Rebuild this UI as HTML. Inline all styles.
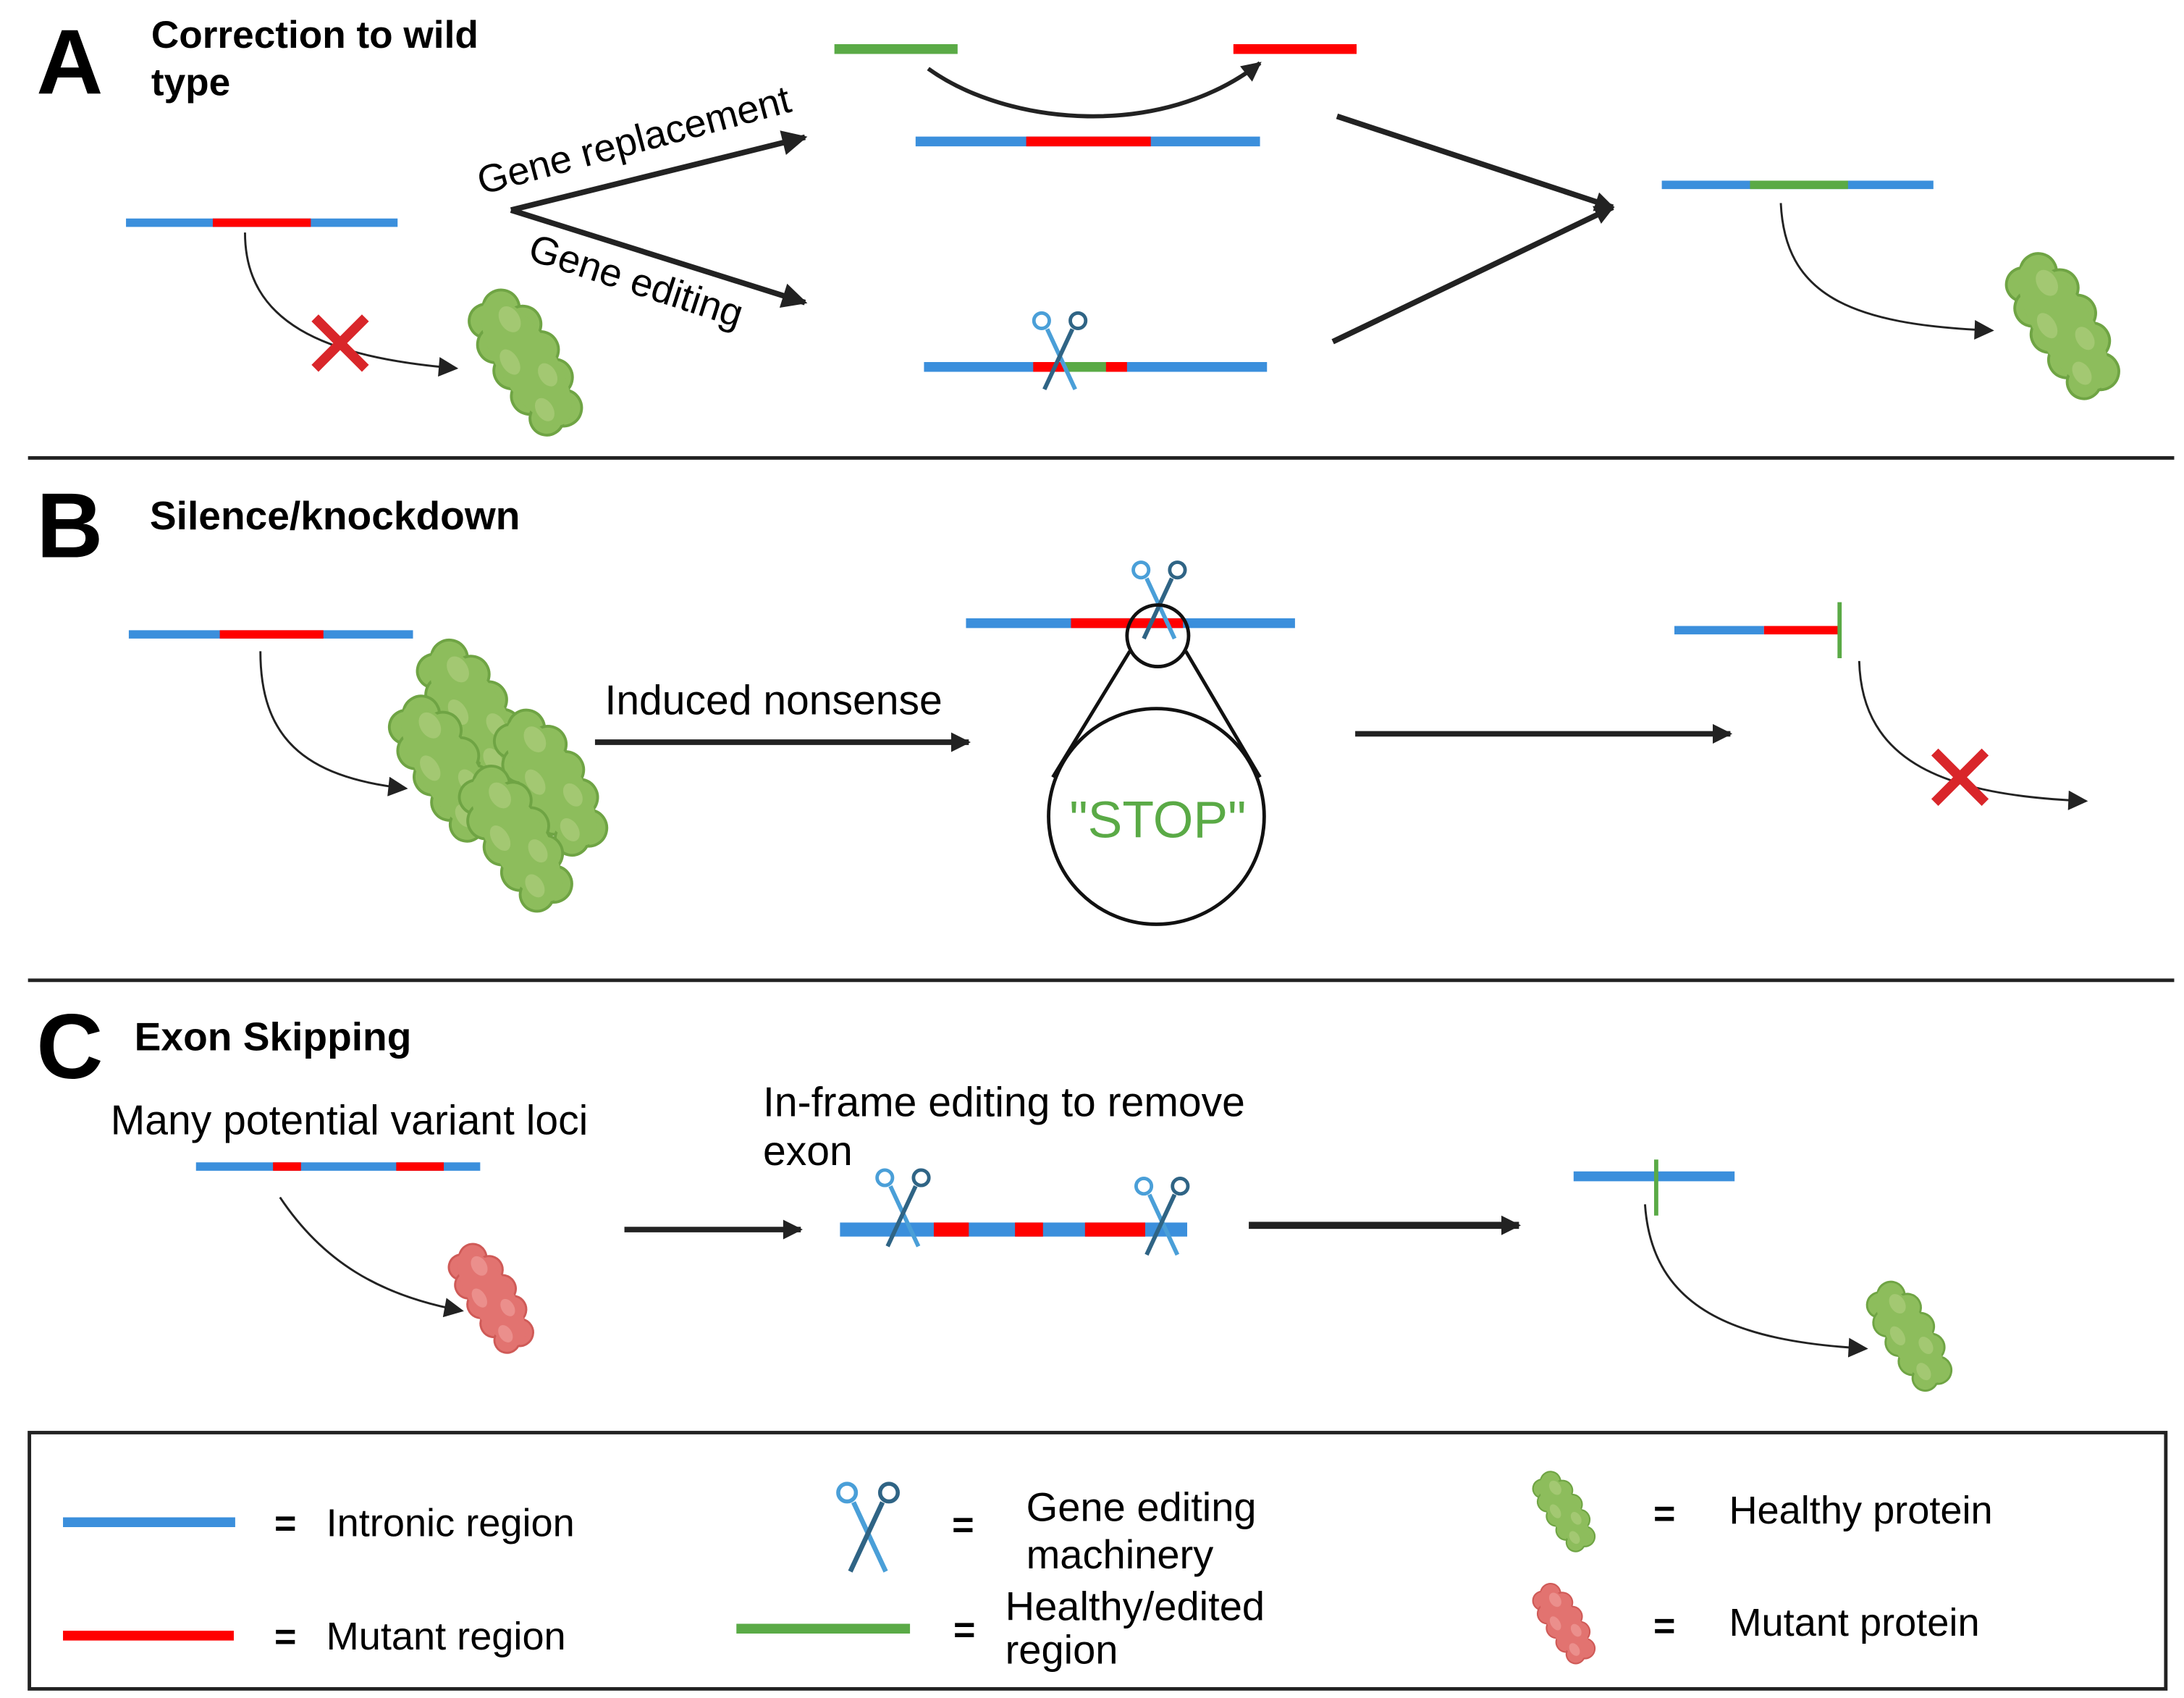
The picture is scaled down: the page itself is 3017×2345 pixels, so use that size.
<!DOCTYPE html>
<html><head><meta charset="utf-8"><style>html,body{margin:0;padding:0;background:#fff}svg{display:block}text{font-family:"Liberation Sans",sans-serif}</style></head><body>
<svg width="3017" height="2345" viewBox="0 0 1560 1212.5" xmlns="http://www.w3.org/2000/svg">
<defs>
<marker id="ahL" viewBox="0 0 10 10" refX="9" refY="5" markerWidth="20" markerHeight="18" orient="auto" markerUnits="userSpaceOnUse"><path d="M0,0L10,5L0,10z" fill="#222"/></marker>
<marker id="ahS" viewBox="0 0 10 10" refX="9" refY="5" markerWidth="16" markerHeight="14" orient="auto" markerUnits="userSpaceOnUse"><path d="M0,0L10,5L0,10z" fill="#222"/></marker>
<g id="protG">
<g transform="rotate(58)" fill="#8dbd5c" stroke="#6fa444" stroke-width="2">
<circle cx="-44" cy="-5" r="13"/><circle cx="-42" cy="9" r="12"/><circle cx="-26" cy="-12" r="13"/><circle cx="-24" cy="12" r="13"/><circle cx="-4" cy="-13" r="13"/><circle cx="-2" cy="12" r="13"/><circle cx="18" cy="-11" r="13"/><circle cx="20" cy="11" r="13"/><circle cx="40" cy="-5" r="13"/><circle cx="40" cy="9" r="12"/>
</g>
<g transform="rotate(58)" fill="#8dbd5c"><ellipse cx="-2" cy="0" rx="52" ry="20"/></g>
<g transform="rotate(58)" fill="#a3c872"><ellipse cx="-34" cy="-6" rx="10" ry="7"/><ellipse cx="-8" cy="10" rx="10" ry="6"/><ellipse cx="14" cy="-8" rx="9" ry="6"/><ellipse cx="34" cy="7" rx="9" ry="6"/></g>
</g>
<g id="protR">
<g transform="rotate(58)" fill="#e27370" stroke="#cf5a57" stroke-width="2">
<circle cx="-44" cy="-5" r="13"/><circle cx="-42" cy="9" r="12"/><circle cx="-26" cy="-12" r="13"/><circle cx="-24" cy="12" r="13"/><circle cx="-4" cy="-13" r="13"/><circle cx="-2" cy="12" r="13"/><circle cx="18" cy="-11" r="13"/><circle cx="20" cy="11" r="13"/><circle cx="40" cy="-5" r="13"/><circle cx="40" cy="9" r="12"/>
</g>
<g transform="rotate(58)" fill="#e27370"><ellipse cx="-2" cy="0" rx="52" ry="20"/></g>
<g transform="rotate(58)" fill="#eb8f8c"><ellipse cx="-34" cy="-6" rx="10" ry="7"/><ellipse cx="-8" cy="10" rx="10" ry="6"/><ellipse cx="14" cy="-8" rx="9" ry="6"/><ellipse cx="34" cy="7" rx="9" ry="6"/></g>
</g>
<g id="sc" fill="none" stroke-width="3">
<line x1="-9" y1="-15" x2="11" y2="28" stroke="#4a9fd8"/>
<circle cx="-13" cy="-21" r="5.5" stroke="#4a9fd8" stroke-width="2.5"/>
<line x1="9" y1="-15" x2="-11" y2="28" stroke="#2f6485"/>
<circle cx="13" cy="-21" r="5.5" stroke="#2f6485" stroke-width="2.5"/>
</g>
<g id="X" stroke="#d9262a" stroke-width="7"><line x1="-18" y1="-18" x2="18" y2="18"/><line x1="18" y1="-18" x2="-18" y2="18"/></g>
</defs>

<!-- Section A -->
<text x="26" y="67" font-size="66" font-weight="bold">A</text>
<text x="108" y="34" font-size="27.5" font-weight="bold">Correction to wild</text>
<text x="108" y="68" font-size="27.5" font-weight="bold">type</text>
<line x1="90" y1="159" x2="284" y2="159" stroke="#3b8fdc" stroke-width="6"/><line x1="152" y1="159" x2="222" y2="159" stroke="#f00" stroke-width="6"/>
<path d="M175,166 C175,230 230,255 326,263" fill="none" stroke="#222" stroke-width="1.5" marker-end="url(#ahS)"/>
<use href="#X" x="243" y="245"/>
<use href="#protG" x="377" y="260"/>
<line x1="365" y1="150" x2="575" y2="98" stroke="#222" stroke-width="4" marker-end="url(#ahL)"/>
<line x1="365" y1="150" x2="575" y2="216" stroke="#222" stroke-width="4" marker-end="url(#ahL)"/>
<text x="0" y="0" font-size="28" transform="translate(344,139) rotate(-15)">Gene replacement</text>
<text x="0" y="0" font-size="28" transform="translate(376,185) rotate(18)">Gene editing</text>
<line x1="596" y1="35" x2="684" y2="35" stroke="#5aaa46" stroke-width="7"/>
<line x1="881" y1="35" x2="969" y2="35" stroke="#f00" stroke-width="7"/>
<path d="M663,49 C720,90 830,100 900,45" fill="none" stroke="#222" stroke-width="3" marker-end="url(#ahS)"/>
<line x1="654" y1="101" x2="900" y2="101" stroke="#3b8fdc" stroke-width="7"/>
<line x1="733" y1="101" x2="822" y2="101" stroke="#f00" stroke-width="7"/>
<line x1="660" y1="262" x2="905" y2="262" stroke="#3b8fdc" stroke-width="7"/>
<line x1="738" y1="262" x2="805" y2="262" stroke="#f00" stroke-width="7"/>
<line x1="760" y1="262" x2="790" y2="262" stroke="#5aaa46" stroke-width="7"/>
<use href="#sc" x="757" y="250"/>
<line x1="955" y1="83" x2="1152" y2="148" stroke="#222" stroke-width="4" marker-end="url(#ahS)"/>
<line x1="952" y1="244" x2="1152" y2="148" stroke="#222" stroke-width="4" marker-end="url(#ahS)"/>
<line x1="1187" y1="132" x2="1381" y2="132" stroke="#3b8fdc" stroke-width="6"/>
<line x1="1250" y1="132" x2="1320" y2="132" stroke="#5aaa46" stroke-width="6"/>
<path d="M1272,145 C1275,210 1320,232 1423,236" fill="none" stroke="#222" stroke-width="1.5" marker-end="url(#ahS)"/>
<use href="#protG" x="1475" y="234"/>
<line x1="20" y1="327" x2="1553" y2="327" stroke="#222" stroke-width="2.5"/>

<!-- Section B -->
<text x="26" y="398" font-size="66" font-weight="bold">B</text>
<text x="107" y="378" font-size="28.5" font-weight="bold">Silence/knockdown</text>
<line x1="92" y1="453" x2="295" y2="453" stroke="#3b8fdc" stroke-width="6"/>
<line x1="157" y1="453" x2="231" y2="453" stroke="#f00" stroke-width="6"/>
<path d="M186,465 C186,525 215,555 290,563" fill="none" stroke="#222" stroke-width="1.5" marker-end="url(#ahS)"/>
<use href="#protG" x="340" y="510"/>
<use href="#protG" x="320" y="550"/>
<use href="#protG" x="395" y="560"/>
<use href="#protG" x="370" y="600"/>
<text x="432" y="510" font-size="29.5">Induced nonsense</text>
<line x1="425" y1="530" x2="692" y2="530" stroke="#222" stroke-width="4" marker-end="url(#ahS)"/>
<line x1="690" y1="445" x2="925" y2="445" stroke="#3b8fdc" stroke-width="7"/>
<line x1="765" y1="445" x2="845" y2="445" stroke="#f00" stroke-width="7"/>
<use href="#sc" x="828" y="428"/>
<circle cx="827" cy="454" r="22" fill="none" stroke="#111" stroke-width="2.5"/>
<circle cx="826" cy="583" r="77" fill="none" stroke="#111" stroke-width="2.5"/>
<line x1="807" y1="465" x2="752" y2="555" stroke="#111" stroke-width="2.5"/>
<line x1="847" y1="465" x2="900" y2="555" stroke="#111" stroke-width="2.5"/>
<text x="827" y="598" font-size="37" fill="#5aaa46" text-anchor="middle">"STOP"</text>
<line x1="968" y1="524" x2="1236" y2="524" stroke="#222" stroke-width="4" marker-end="url(#ahS)"/>
<line x1="1196" y1="450" x2="1260" y2="450" stroke="#3b8fdc" stroke-width="6"/>
<line x1="1260" y1="450" x2="1313" y2="450" stroke="#f00" stroke-width="6"/>
<line x1="1314" y1="430" x2="1314" y2="470" stroke="#5aaa46" stroke-width="3"/>
<path d="M1328,472 C1330,545 1390,568 1490,572" fill="none" stroke="#222" stroke-width="1.5" marker-end="url(#ahS)"/>
<use href="#X" x="1400" y="555"/>
<line x1="20" y1="700" x2="1553" y2="700" stroke="#222" stroke-width="2.5"/>

<!-- Section C -->
<text x="26" y="770" font-size="66" font-weight="bold">C</text>
<text x="96" y="750" font-size="28.5" font-weight="bold">Exon Skipping</text>
<text x="79" y="810" font-size="29.5">Many potential variant loci</text>
<line x1="140" y1="833" x2="343" y2="833" stroke="#3b8fdc" stroke-width="6"/>
<line x1="195" y1="833" x2="215" y2="833" stroke="#f00" stroke-width="6"/>
<line x1="283" y1="833" x2="317" y2="833" stroke="#f00" stroke-width="6"/>
<path d="M200,855 C230,900 270,925 330,936" fill="none" stroke="#222" stroke-width="1.5" marker-end="url(#ahS)"/>
<use href="#protR" transform="translate(352,928) scale(0.75) translate(-352,-928)" x="352" y="928"/>
<line x1="446" y1="878" x2="572" y2="878" stroke="#222" stroke-width="4" marker-end="url(#ahS)"/>
<text x="545" y="797" font-size="29.5">In-frame editing to remove</text>
<text x="545" y="832" font-size="29.5">exon</text>
<line x1="600" y1="878" x2="848" y2="878" stroke="#3b8fdc" stroke-width="10"/>
<line x1="667" y1="878" x2="692" y2="878" stroke="#f00" stroke-width="10"/>
<line x1="725" y1="878" x2="745" y2="878" stroke="#f00" stroke-width="10"/>
<line x1="775" y1="878" x2="818" y2="878" stroke="#f00" stroke-width="10"/>
<use href="#sc" x="645" y="862"/>
<use href="#sc" x="830" y="868"/>
<line x1="892" y1="875" x2="1085" y2="875" stroke="#222" stroke-width="5" marker-end="url(#ahS)"/>
<line x1="1124" y1="840" x2="1239" y2="840" stroke="#3b8fdc" stroke-width="7"/>
<line x1="1183" y1="828" x2="1183" y2="868" stroke="#5aaa46" stroke-width="3"/>
<path d="M1175,860 C1180,935 1240,958 1333,963" fill="none" stroke="#222" stroke-width="1.5" marker-end="url(#ahS)"/>
<use href="#protG" transform="translate(1365,955) scale(0.75) translate(-1365,-955)" x="1365" y="955"/>

<!-- Legend -->
<rect x="21" y="1023" width="1526" height="183" fill="none" stroke="#222" stroke-width="2.5"/>
<line x1="45" y1="1087" x2="168" y2="1087" stroke="#3b8fdc" stroke-width="7"/>
<text x="196" y="1097" font-size="27" font-weight="bold">=</text>
<text x="233" y="1097" font-size="28">Intronic region</text>
<line x1="45" y1="1168" x2="167" y2="1168" stroke="#f00" stroke-width="7"/>
<text x="196" y="1178" font-size="27" font-weight="bold">=</text>
<text x="233" y="1178" font-size="28">Mutant region</text>
<use href="#sc" transform="translate(620,1090) scale(1.15) translate(-620,-1090)" x="620" y="1090"/>
<text x="680" y="1098" font-size="27" font-weight="bold">=</text>
<text x="733" y="1086" font-size="29">Gene editing</text>
<text x="733" y="1120" font-size="29">machinery</text>
<line x1="526" y1="1163" x2="650" y2="1163" stroke="#5aaa46" stroke-width="7"/>
<text x="681" y="1173" font-size="27" font-weight="bold">=</text>
<text x="718" y="1157" font-size="29">Healthy/edited</text>
<text x="718" y="1188" font-size="29">region</text>
<use href="#protG" transform="translate(1118,1080) scale(0.55) translate(-1118,-1080)" x="1118" y="1080"/>
<text x="1181" y="1090" font-size="27" font-weight="bold">=</text>
<text x="1235" y="1088" font-size="28">Healthy protein</text>
<use href="#protR" transform="translate(1118,1160) scale(0.55) translate(-1118,-1160)" x="1118" y="1160"/>
<text x="1181" y="1170" font-size="27" font-weight="bold">=</text>
<text x="1235" y="1168" font-size="28">Mutant protein</text>
</svg>
</body></html>
